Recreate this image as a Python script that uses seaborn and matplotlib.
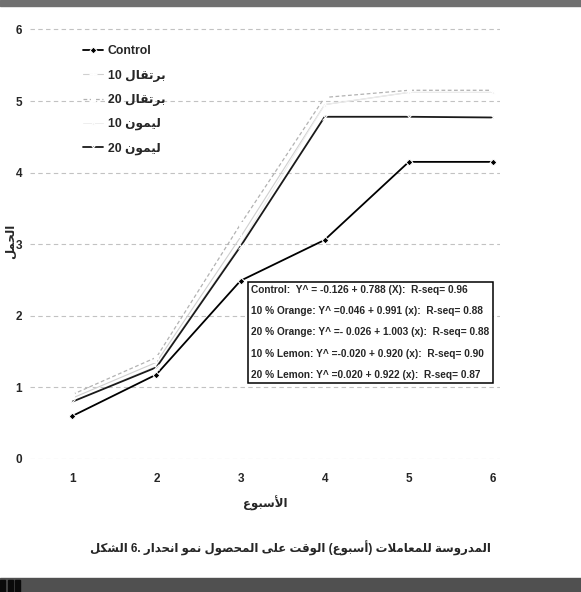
import re
import matplotlib
matplotlib.use("Agg")
import matplotlib.pyplot as plt
from matplotlib.patches import Rectangle
import seaborn as sns

# ---- data -------------------------------------------------------------
weeks = [1, 2, 3, 4, 5, 6]
series_names = ["Control", "برتقال 10", "برتقال 20", "ليمون 10", "ليمون 20"]
control = [0.60, 1.18, 2.49, 3.06, 4.15, 4.15]
orange_10 = [0.85, 1.35, 3.10, 4.95, 5.12, 5.12]
orange_20 = [0.90, 1.42, 3.28, 5.05, 5.15, 5.15]
lemon_10 = [0.80, 1.30, 3.00, 4.95, 5.12, 5.12]
lemon_20 = [0.80, 1.28, 2.97, 4.78, 4.78, 4.77]
y_ticks = [0, 1, 2, 3, 4, 5, 6]

equations = [
    "Control:  Y^ = -0.126 + 0.788 (X):  R-seq= 0.96",
    "10 % Orange: Y^ =0.046 + 0.991 (x):  R-seq= 0.88",
    "20 % Orange: Y^ =- 0.026 + 1.003 (x):  R-seq= 0.88",
    "10 % Lemon: Y^ =-0.020 + 0.920 (x):  R-seq= 0.90",
    "20 % Lemon: Y^ =0.020 + 0.922 (x):  R-seq= 0.87",
]
x_label = "الأسبوع"
y_label = "الحمل"
caption = "الشكل 6. انحدار نمو المحصول على الوقت (أسبوع) للمعاملات المدروسة"

# ---- minimal Arabic shaping (matplotlib has no complex text layout) ----
FORMS = {
    "ا": "\uFE8D\uFE8E", "أ": "\uFE83\uFE84", "ب": "\uFE8F\uFE90\uFE91\uFE92",
    "ة": "\uFE93\uFE94", "ت": "\uFE95\uFE96\uFE97\uFE98", "ح": "\uFEA1\uFEA2\uFEA3\uFEA4",
    "د": "\uFEA9\uFEAA", "ر": "\uFEAD\uFEAE", "س": "\uFEB1\uFEB2\uFEB3\uFEB4",
    "ش": "\uFEB5\uFEB6\uFEB7\uFEB8", "ص": "\uFEB9\uFEBA\uFEBB\uFEBC",
    "ع": "\uFEC9\uFECA\uFECB\uFECC", "ق": "\uFED5\uFED6\uFED7\uFED8",
    "ك": "\uFED9\uFEDA\uFEDB\uFEDC", "ل": "\uFEDD\uFEDE\uFEDF\uFEE0",
    "م": "\uFEE1\uFEE2\uFEE3\uFEE4", "ن": "\uFEE5\uFEE6\uFEE7\uFEE8",
    "و": "\uFEED\uFEEE", "ى": "\uFEEF\uFEF0", "ي": "\uFEF1\uFEF2\uFEF3\uFEF4",
}
LAM_ALEF = {"ا": "\uFEFB\uFEFC", "أ": "\uFEF7\uFEF8"}


def shape_run(run):
    glyphs, i, prev_joins = [], 0, False
    while i < len(run):
        c = run[i]
        forms = FORMS.get(c)
        if forms is None:
            glyphs.append(c)
            prev_joins = False
            i += 1
            continue
        if c == "ل" and i + 1 < len(run) and run[i + 1] in LAM_ALEF:
            glyphs.append(LAM_ALEF[run[i + 1]][1 if prev_joins else 0])
            prev_joins = False
            i += 2
            continue
        nxt = run[i + 1] if i + 1 < len(run) else None
        next_joins = len(forms) == 4 and nxt in FORMS
        idx = {(False, False): 0, (True, False): 1,
               (False, True): 2, (True, True): 3}[(prev_joins, next_joins)]
        glyphs.append(forms[idx])
        prev_joins = next_joins
        i += 1
    return "".join(reversed(glyphs))


def ar(text, rtl=True):
    words = []
    for tok in text.split(" "):
        parts = re.split(r"([\u0600-\u06FF]+)", tok)
        words.append("".join(shape_run(p) if re.match(r"[\u0600-\u06FF]", p) else p
                             for p in parts))
    if rtl:
        words.reverse()
    return " ".join(words)


# ---- figure -----------------------------------------------------------
sns.set_style("white")
plt.rcParams["font.family"] = ["Liberation Sans", "DejaVu Sans"]

fig = plt.figure(figsize=(5.81, 5.92), dpi=100)
ax = fig.add_axes([0.052, 0.2247, 0.808, 0.728])

values = [control, orange_10, orange_20, lemon_10, lemon_20]
styles = [
    dict(color="black", marker="D", markersize=3.5, linestyle="-", lw=1.3),
    dict(color="#d0d0d0", marker="+", markersize=6, linestyle="-", lw=0.8),
    dict(color="#b2b2b2", marker="s", markersize=3.5, linestyle=(0, (3, 2)), lw=0.9,
         markerfacecolor="white"),
    dict(color="#eeeeee", marker="^", markersize=2.5, linestyle="-", lw=0.7),
    dict(color="#1a1a1a", marker="x", markersize=5, linestyle="-", lw=1.3),
]
for name, vals, st in zip(series_names, values, styles):
    sns.lineplot(x=weeks, y=vals, ax=ax, label=ar(name), **st)

ax.set_xlim(0.5, 6.08)
ax.set_ylim(0, 6.02)
ax.set_xticks(weeks)
ax.set_yticks(y_ticks)
ax.yaxis.grid(True, linestyle=(0, (4, 3)), color="#c2c2c2", lw=0.8)
ax.xaxis.grid(False)
for s in ax.spines.values():
    s.set_visible(False)
ax.tick_params(axis="both", length=0, labelsize=8.5)
ax.tick_params(axis="x", pad=10)
ax.tick_params(axis="y", pad=6)
for lab in ax.get_xticklabels() + ax.get_yticklabels():
    lab.set_fontweight("bold")

ax.set_xlabel(ar(x_label), fontsize=8.5, fontweight="bold", labelpad=8)
ax.set_ylabel(ar(y_label), fontsize=8.5, fontweight="bold", va="center")
ax.yaxis.set_label_coords(-0.042, 0.505)

ax.legend(loc="upper left", bbox_to_anchor=(0.09, 0.985), frameon=False,
          handlelength=1.6, handletextpad=0.4, labelspacing=1.0,
          prop=dict(size=8.8, weight="bold"))

ax.text(3.13, 2.43, "\n".join(equations), ha="left", va="top",
        fontsize=7.3, fontweight="bold", linespacing=2.4,
        bbox=dict(boxstyle="square,pad=0.3", fc="white", ec="black", lw=1.1),
        zorder=5)

fig.text(0.5, 0.073, ar(caption, rtl=False), ha="center", va="center",
         fontsize=8.5, fontweight="bold")

# scanner frame bands
fig.patches.append(Rectangle((0, 1 - 6 / 592), 1, 6 / 592, transform=fig.transFigure,
                             color="#707070", zorder=0))
fig.patches.append(Rectangle((0, 0), 1, 14 / 592, transform=fig.transFigure,
                             color="#505050", zorder=0))
for x0 in (0, 8, 15):
    fig.patches.append(Rectangle((x0 / 581, 0), 5 / 581, 12 / 592,
                                 transform=fig.transFigure, color="#0a0a0a", zorder=1))

fig.savefig("out.png", dpi=100)
